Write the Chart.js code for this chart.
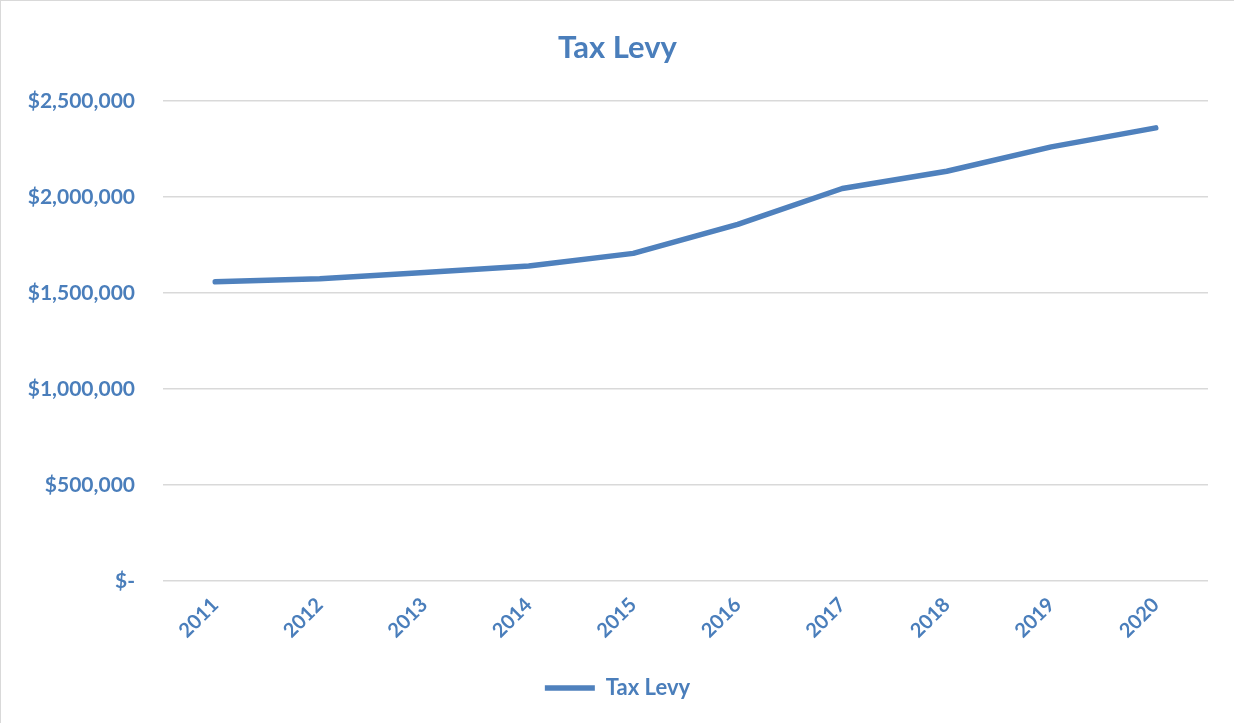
<!DOCTYPE html>
<html>
<head>
<meta charset="utf-8">
<script src="https://cdn.jsdelivr.net/npm/chart.js@4/dist/chart.umd.min.js"></script>
<style>
  html, body { margin: 0; padding: 0; background: #fff; }
  #wrap { width: 1233px; height: 722px; border-left: 1px solid #d9d9d9; border-top: 1px solid #d9d9d9; }
</style>
</head>
<body>
<div id="wrap"><canvas id="levyChart" width="1233" height="722"></canvas></div>
<script>
// values
var years = ["2011", "2012", "2013", "2014", "2015", "2016", "2017", "2018", "2019", "2020"];
var taxLevy = [1559000, 1575000, 1607000, 1641000, 1707000, 1858000, 2045000, 2135000, 2262000, 2361000];
var yTicks = [0, 500000, 1000000, 1500000, 2000000, 2500000];

var blue = "#4F81BD";
var txt = "#4A7EBB";
var fontFam = "Lato, 'Open Sans', sans-serif";

function money(v) {
  if (v === 0) return "$-";
  return "$" + v.toLocaleString("en-US");
}

var chart = new Chart(document.getElementById("levyChart"), {
  type: "line",
  data: {
    labels: years,
    datasets: [
      {
        label: "Tax Levy",
        data: taxLevy,
        borderColor: blue,
        backgroundColor: blue,
        borderWidth: 5.5,
        borderCapStyle: "round",
        borderJoinStyle: "round",
        pointRadius: 0,
        pointHoverRadius: 0,
        tension: 0,
      },
    ],
  },
  options: {
    responsive: false,
    animation: false,
    layout: { padding: { top: 0, right: 0, bottom: 14, left: 0 } },
    plugins: {
      title: {
        display: true,
        text: "Tax Levy",
        color: txt,
        font: { family: fontFam, size: 31, weight: "bold" },
        padding: { top: 28, bottom: 35 },
      },
      legend: {
        position: "bottom",
        labels: {
          color: txt,
          font: { family: fontFam, size: 22, weight: "bold" },
          usePointStyle: true,
          pointStyle: "line",
          pointStyleWidth: 50,
          padding: 10,
        },
      },
      tooltip: { enabled: false },
    },
    scales: {
      x: {
        offset: true,
        grid: { display: false, drawTicks: false },
        border: { display: false },
        ticks: {
          color: txt,
          font: { family: fontFam, size: 20, weight: "bold" },
          minRotation: 45,
          maxRotation: 45,
          padding: 12,
        },
        afterFit: function (s) { s.height = 86; },
      },
      y: {
        min: 0,
        max: 2500000,
        afterBuildTicks: function (s) {
          s.ticks = yTicks.map(function (v) { return { value: v }; });
        },
        grid: { color: "#D9D9D9", lineWidth: 1.5, drawTicks: false },
        border: { display: false },
        ticks: {
          color: txt,
          font: { family: fontFam, size: 21, weight: "bold" },
          padding: 28,
          callback: function (v) { return money(v); },
        },
        afterFit: function (s) { s.width = 162; },
      },
      // empty right axis, only to keep a margin on the right
      yRight: {
        position: "right",
        min: 0,
        max: 2500000,
        grid: { display: false, drawTicks: false },
        border: { display: false },
        ticks: { display: false },
        afterFit: function (s) { s.width = 26; },
      },
    },
  },
});
</script>
</body>
</html>
